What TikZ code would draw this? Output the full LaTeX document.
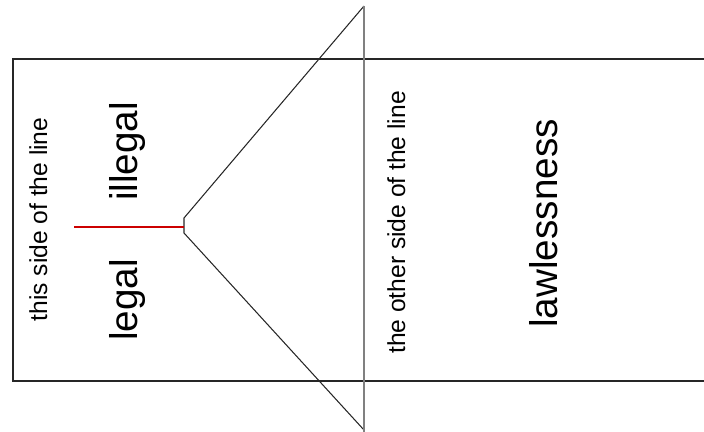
\documentclass[tikz,border=0pt]{standalone}
\usepackage{fontspec}
\setmainfont{Liberation Sans}
\usepackage{tikz}
\tikzset{
  frame/.style={line width=1.1pt, draw=black!85},
  wedge/.style={line width=0.6pt, draw=black!85, line join=miter},
  divider/.style={line width=0.9pt, draw=black!50},
  boundary/.style={line width=1.7pt, draw=red!80!black},
  sidelabel/.style={rotate=90, anchor=base, inner sep=0pt, font=\fontsize{14}{17}\selectfont},
  biglabel/.style={rotate=90, anchor=base, inner sep=0pt, font=\fontsize{22}{26}\selectfont},
}
\begin{document}
\begin{tikzpicture}
\useasboundingbox (0,0) rectangle (14.08,8.62);
\draw[frame] (14.10,7.44) -- (0.26,7.44) -- (0.26,1.00) -- (14.10,1.00);
\coordinate (tip) at (7.28,8.50);
\coordinate (foot) at (7.28,0.02);
\coordinate (apexup) at (3.68,4.26);
\coordinate (apexdown) at (3.68,3.96);
\draw[wedge] (tip) -- (apexup) -- (apexdown) -- (foot);
\draw[divider] (7.28,8.50) -- (7.28,-0.05);
\coordinate (lineend) at (1.48,4.08);
\draw[boundary] (lineend) -- (3.67,4.08);
\node[sidelabel] (thisside) at (0.94,4.23) {this side of the line};
\node[biglabel] (legal) at (2.74,2.62) {legal};
\node[biglabel] (illegal) at (2.74,5.59) {illegal};
\node[sidelabel] (otherside) at (8.10,4.17) {the other side of the line};
\node[biglabel] (lawless) at (11.14,4.15) {lawlessness};
\end{tikzpicture}
\end{document}
